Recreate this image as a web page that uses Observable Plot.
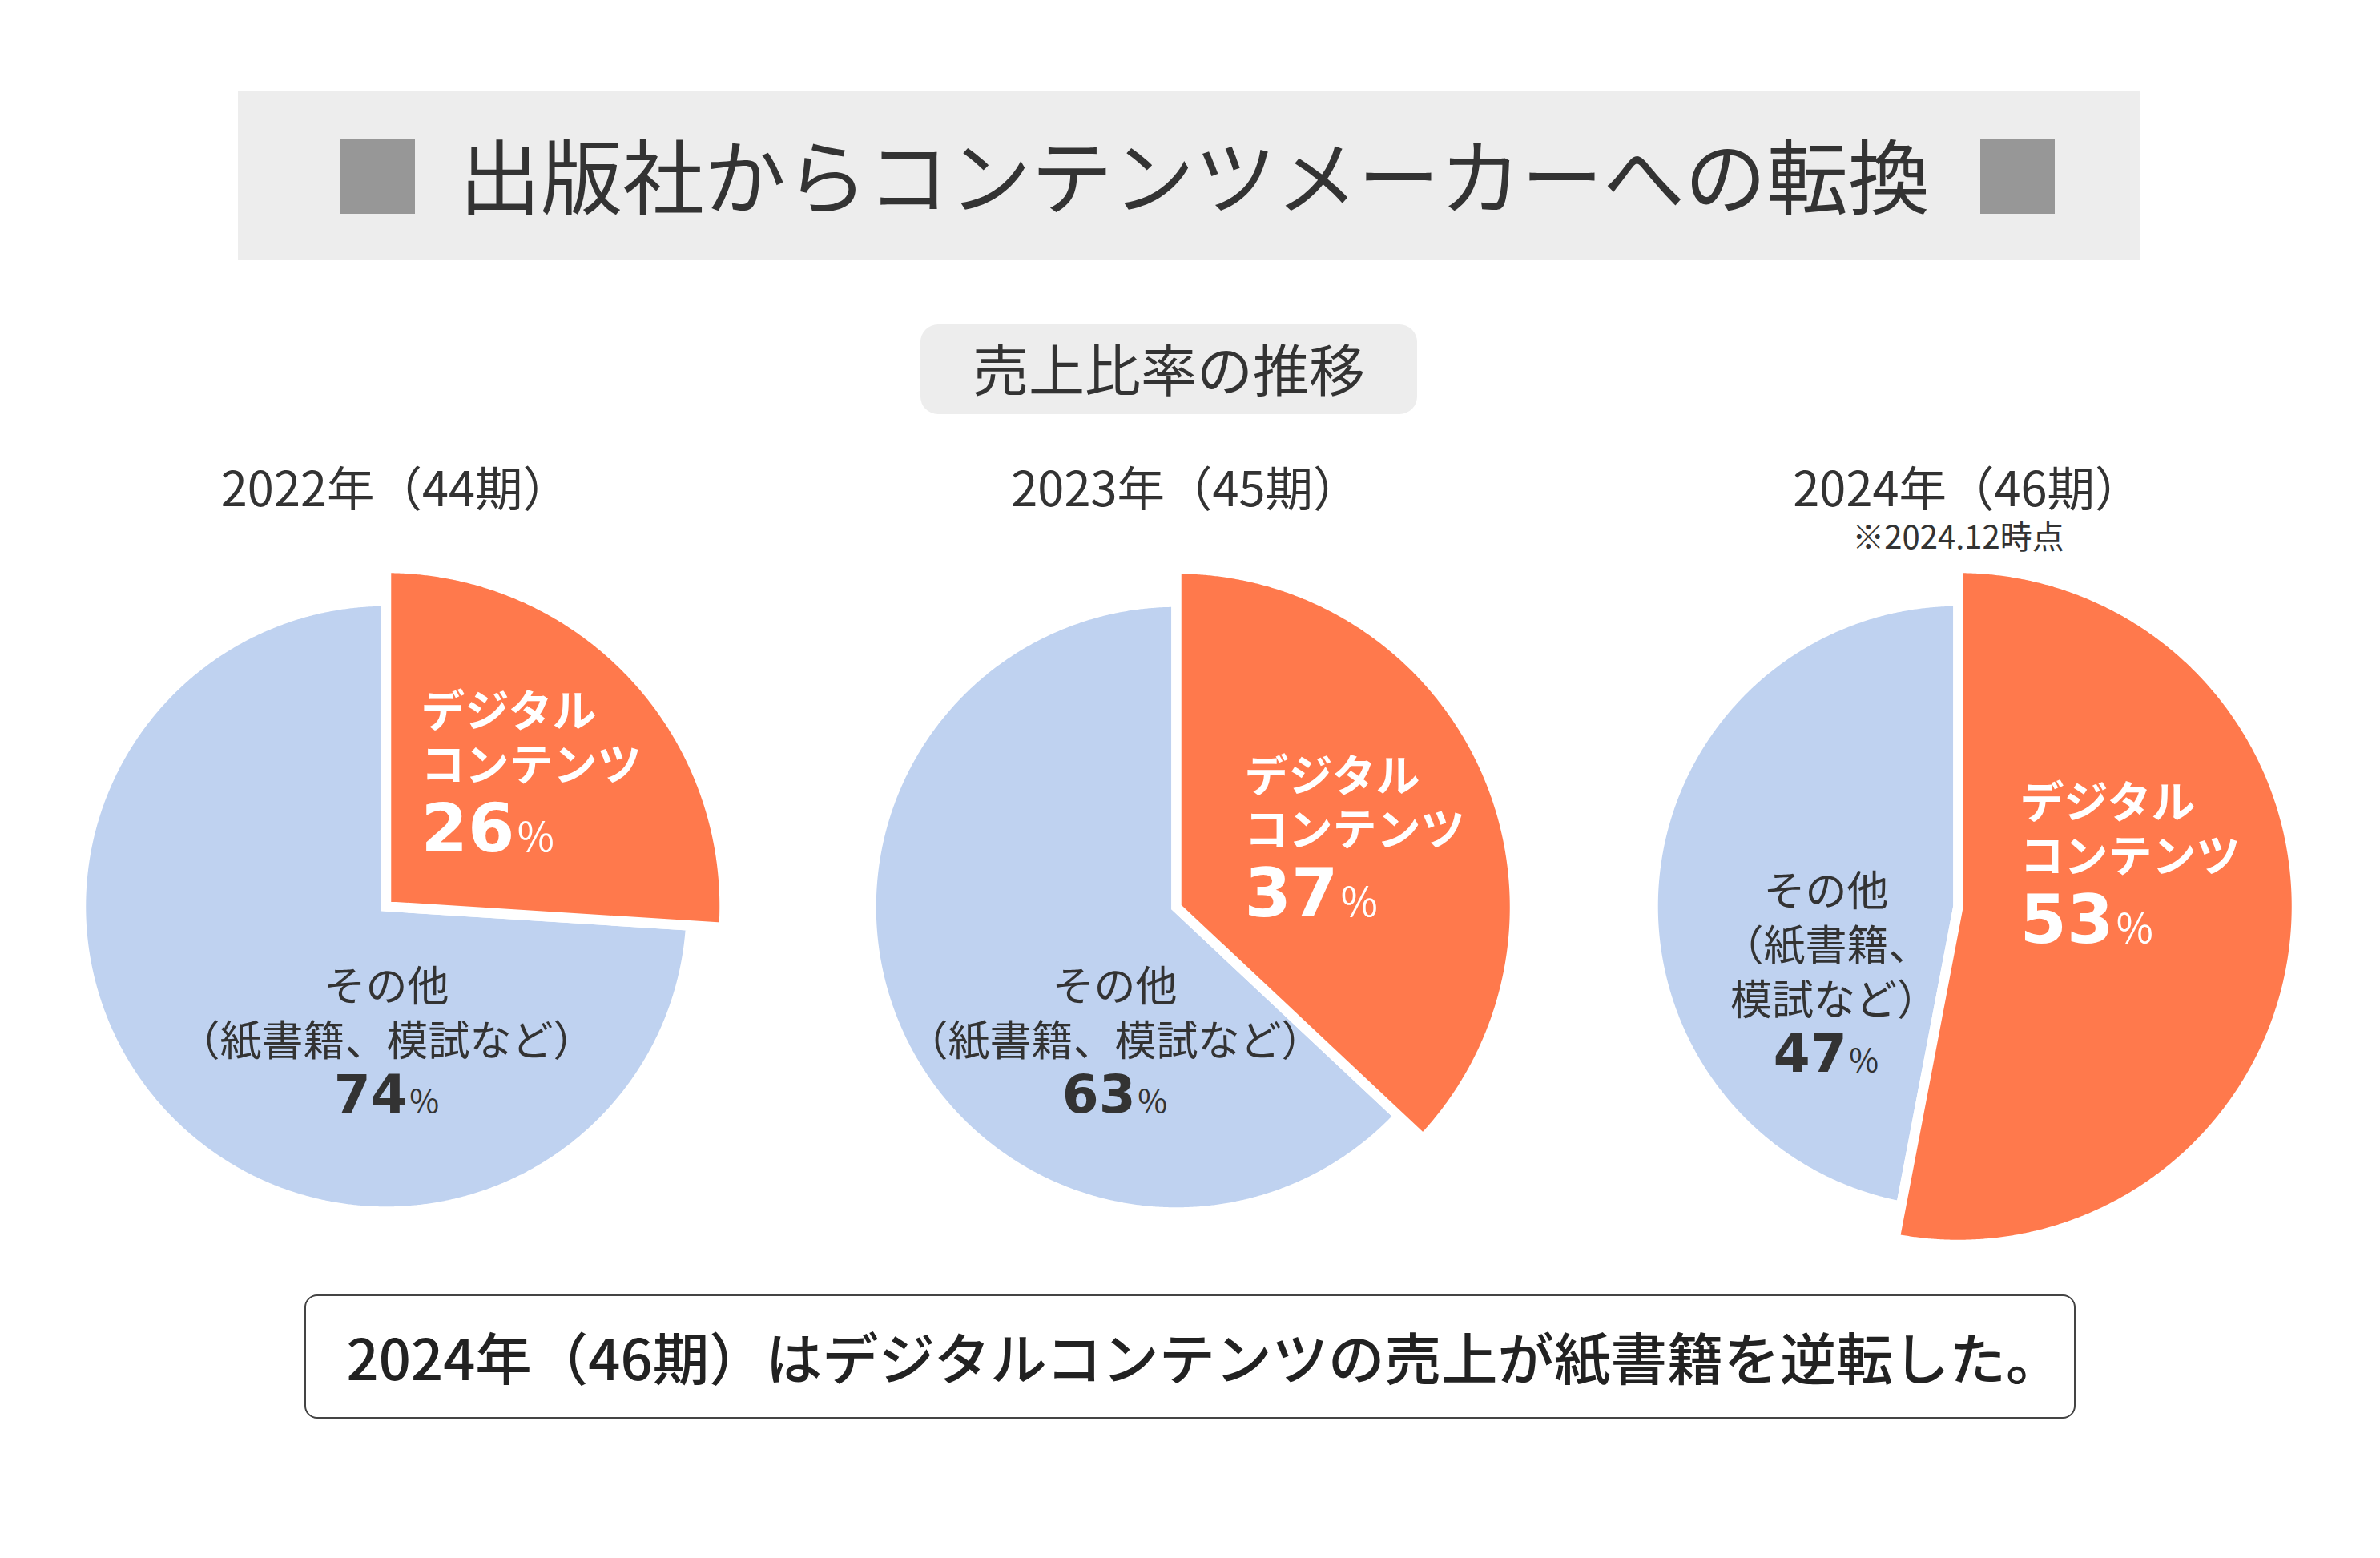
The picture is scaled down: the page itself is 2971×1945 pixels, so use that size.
<!DOCTYPE html>
<html>
<head>
<meta charset="utf-8">
<script src="https://cdn.jsdelivr.net/npm/d3@7"></script>
<script src="https://cdn.jsdelivr.net/npm/@observablehq/plot@0.6"></script>
<style>
  html, body { margin: 0; padding: 0; background: #fff; }
  #page { position: relative; width: 2971px; height: 1945px; overflow: hidden;
          font-family: "Noto Sans CJK JP", "Noto Sans", sans-serif; color: #333; }
  .abs { position: absolute; box-sizing: border-box; }
  #titlebox { left: 297px; top: 114px; width: 2375px; height: 211px; background: #ededed; }
  .sq { top: 174px; width: 93px; height: 93px; background: #979797; }
  #title { left: 491px; top: 110px; width: 2000px; height: 211px; line-height: 211px;
           text-align: center; font-size: 102px; font-weight: 400; color: #333; white-space: nowrap; }
  #subtitle { left: 1149px; top: 405px; width: 620px; height: 112px; border-radius: 22px;
              background: #ededed; text-align: center; line-height: 108px; font-size: 70px; color: #333; white-space: nowrap; }
  #chart { left: 0; top: 540px; }
  #caption { left: 380px; top: 1616px; width: 2211px; height: 155px; border: 2px solid #444; border-radius: 16px;
             padding-left: 36px; text-align: center; line-height: 149px; font-size: 70.5px; font-weight: 500;
             color: #222; white-space: nowrap; }
</style>
</head>
<body>
<div id="page">
  <div class="abs" id="titlebox"></div>
  <div class="abs sq" style="left:425px"></div>
  <div class="abs sq" style="left:2472px"></div>
  <div class="abs" id="title"></div>
  <div class="abs" id="subtitle"></div>
  <div class="abs" id="chart"></div>
  <div class="abs" id="caption"></div>
</div>
<script>
// ---------------- data ----------------
const titleText = "出版社からコンテンツメーカーへの転換";
const subtitleText = "売上比率の推移";
const captionText = "2024年（46期）はデジタルコンテンツの売上が紙書籍を逆転した。";
const periods = ["2022年（44期）", "2023年（45期）", "2024年（46期）"];
const periodNotes = ["", "", "※2024.12時点"];
const digitalShare = [26, 37, 53];
const otherShare = [74, 63, 47];
const digitalName = ["デジタル", "コンテンツ"];
const otherName = [
  ["その他", "（紙書籍、模試など）"],
  ["その他", "（紙書籍、模試など）"],
  ["その他", "（紙書籍、", "模試など）"]
];

// ---------------- layout (pixels) ----------------
const W = 2971, H = 1060, TOP = 540;
const pieCenters = [[481.5, 1131], [1468, 1132], [2444, 1131]];
const R_OTHER = 381, R_DIGITAL = 422.5, GAP = 12.5;
const COLOR_DIGITAL = "#FF794C", COLOR_OTHER = "#BFD2F0";
const periodY = 612, noteY = 672;
const digitalLabelPos = [[525, 889], [1553, 970], [2521, 1003]]; // left x, first line centre y
const otherLabelPos = [[482, 1233], [1391, 1233], [2279, 1114]];  // centre x, first line centre y
const DIG = {name: 55, num: 84, line: 67, pct: 80};
const OTH = {name: 52, num: 66, line: 68, pct: 66};
const PERIOD_SIZE = 59.5, NOTE_SIZE = 40;
const FONT_JP = "Noto Sans CJK JP";
const FONT_NUM = "DejaVu Sans";

document.getElementById("title").textContent = titleText;
document.getElementById("subtitle").textContent = subtitleText;
document.getElementById("caption").textContent = captionText;

// ---------------- slices from the shares ----------------
function arcPolygon(pie, a0, a1, r, cx, cy) {
  const pts = [{pie, x: cx, y: cy}];
  const n = Math.max(4, Math.ceil((a1 - a0) / (Math.PI / 720)));
  for (let k = 0; k <= n; k++) {
    const a = a0 + (a1 - a0) * k / n;
    pts.push({pie, x: cx + r * Math.sin(a), y: cy - r * Math.cos(a)});
  }
  return pts;
}
const digitalPts = [], otherPts = [];
periods.forEach((p, i) => {
  const [cx, cyFull] = pieCenters[i];
  const cy = cyFull - TOP;
  const total = digitalShare[i] + otherShare[i];
  const aSplit = digitalShare[i] / total * 2 * Math.PI;
  digitalPts.push(...arcPolygon(i, 0, aSplit, R_DIGITAL, cx, cy));
  otherPts.push(...arcPolygon(i, aSplit, 2 * Math.PI, R_OTHER, cx, cy));
});

// ---------------- labels ----------------
const periodData = periods.map((t, i) => ({t, x: pieCenters[i][0], y: periodY - TOP}));
const noteData = periodNotes.map((t, i) => ({t, x: pieCenters[i][0], y: noteY - TOP})).filter(d => d.t);
const digLabelData = periods.map((p, i) => ({
  t: [...digitalName, digitalShare[i] + "%"].join("\n"),
  x: digitalLabelPos[i][0], y: digitalLabelPos[i][1] - TOP
}));
const othLabelData = periods.map((p, i) => ({
  t: [...otherName[i], otherShare[i] + "%"].join("\n"),
  x: otherLabelPos[i][0], y: otherLabelPos[i][1] - TOP
}));

const sliceStyle = {x: "x", y: "y", z: "pie", curve: "linear-closed", stroke: "white",
  strokeWidth: GAP, strokeLinejoin: "miter", strokeMiterlimit: 10};

const chart = Plot.plot({
  width: W, height: H, margin: 0,
  x: {type: "identity", axis: null},
  y: {type: "identity", axis: null},
  style: {background: "transparent", overflow: "visible"},
  marks: [
    Plot.line(otherPts, {...sliceStyle, fill: COLOR_OTHER}),
    Plot.line(digitalPts, {...sliceStyle, fill: COLOR_DIGITAL}),
    Plot.text(periodData, {x: "x", y: "y", text: "t", fontSize: PERIOD_SIZE, fontFamily: FONT_JP, fill: "#333"}),
    Plot.text(noteData, {x: "x", y: "y", text: "t", fontSize: NOTE_SIZE, fontFamily: FONT_JP, fill: "#333"}),
    Plot.text(digLabelData, {x: "x", y: "y", text: "t", textAnchor: "start", lineHeight: 1.2,
      fontSize: DIG.name, fontWeight: 700, fontFamily: FONT_JP, fill: "white"}),
    Plot.text(othLabelData, {x: "x", y: "y", text: "t", textAnchor: "middle", lineHeight: 1.2,
      fontSize: OTH.name, fontWeight: 400, fontFamily: FONT_JP, fill: "#333"})
  ]
});

// ---------------- typographic finishing ----------------
const NS = "http://www.w3.org/2000/svg";
// optical centring of full-width brackets / commas that carry blank space on one side
function opticalShift(s) {
  let k = 0;
  if (/^[（「]/.test(s)) k -= 0.2;
  if (/[）」、。]$/.test(s)) k += 0.2;
  return k;
}
function layoutBlock(textEl, spec, centred) {
  const lines = Array.from(textEl.children).filter(e => e.tagName.toLowerCase() === "tspan");
  const n = lines.length;
  lines.forEach((ts, k) => {
    ts.removeAttribute("dy");
    const m = /^(\d+)%$/.exec(ts.textContent);
    if (m) {
      const c = (n - 2) * spec.line + spec.pct;
      ts.setAttribute("y", c + 0.32 * spec.num);
      ts.textContent = "";
      const a = document.createElementNS(NS, "tspan");
      a.textContent = m[1];
      a.setAttribute("font-size", spec.num);
      a.setAttribute("font-family", FONT_NUM);
      a.setAttribute("font-weight", 700);
      const b = document.createElementNS(NS, "tspan");
      b.textContent = "%";
      b.setAttribute("font-size", Math.round(spec.num * 0.6));
      b.setAttribute("font-weight", 400);
      b.setAttribute("font-family", FONT_JP);
      b.setAttribute("dx", spec.num * 0.04);
      ts.append(a, b);
    } else {
      ts.setAttribute("y", k * spec.line + 0.32 * spec.name);
      if (centred) ts.setAttribute("dx", opticalShift(ts.textContent) * spec.name);
    }
  });
}
chart.querySelectorAll("text").forEach(t => {
  const g = t.closest("[font-size]");
  const size = g ? parseFloat(g.getAttribute("font-size")) : 0;
  if (size === DIG.name) layoutBlock(t, DIG, false);
  else if (size === OTH.name) layoutBlock(t, OTH, true);
  else if (size === PERIOD_SIZE) t.setAttribute("dx", opticalShift(t.textContent) * size);
});

document.getElementById("chart").append(chart);
</script>
</body>
</html>
